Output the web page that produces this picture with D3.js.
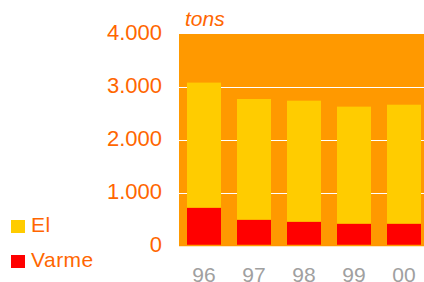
<!DOCTYPE html>
<html>
<head>
<meta charset="utf-8">
<script src="https://cdn.jsdelivr.net/npm/d3@7"></script>
<style>
  body { margin: 0; background: #fff; }
  svg { display: block; font-family: "Liberation Sans", Arial, sans-serif; }
</style>
</head>
<body>
<div id="chart"></div>
<script>
const years = ["96", "97", "98", "99", "00"];
const varme = [715, 488, 450, 413, 413];
const el = [2366, 2283, 2289, 2213, 2250];
const yTicks = [0, 1000, 2000, 3000, 4000];
const legend_items = [
  { name: "El", color: "#FFCC00" },
  { name: "Varme", color: "#FF0000" }
];

const W = 424, H = 282;
const plot_l = 179, plot_r = 429, plot_t = 34, plot_b = 245.5;

const svg = d3.select("#chart").append("svg")
  .attr("width", W)
  .attr("height", H);

const x = d3.scaleBand().domain(years).range([plot_l, plot_r])
  .paddingInner(0.32).paddingOuter(0.16);
const y = d3.scaleLinear().domain([0, 4000]).range([plot_b, plot_t]);

// plot background
svg.append("rect")
  .attr("x", plot_l).attr("y", plot_t)
  .attr("width", W - plot_l).attr("height", plot_b - plot_t)
  .attr("fill", "#FF9900");

// gridlines
svg.append("g")
  .selectAll("line")
  .data(yTicks.filter(d => d > 0 && d < 4000))
  .join("line")
  .attr("x1", plot_l).attr("x2", W)
  .attr("y1", d => Math.round(y(d)) + 0.5).attr("y2", d => Math.round(y(d)) + 0.5)
  .attr("stroke", "#fff").attr("stroke-width", 1);

const stacked = years.map((yr, i) => ({ yr, varme: varme[i], el: el[i] }));

// Varme bars (bottom)
svg.append("g")
  .selectAll("rect")
  .data(stacked)
  .join("rect")
  .attr("x", d => x(d.yr))
  .attr("width", x.bandwidth())
  .attr("y", d => y(d.varme))
  .attr("height", d => y(0) - y(d.varme))
  .attr("fill", "#FF0000");

// El bars (on top)
svg.append("g")
  .selectAll("rect")
  .data(stacked)
  .join("rect")
  .attr("x", d => x(d.yr))
  .attr("width", x.bandwidth())
  .attr("y", d => y(d.varme + d.el))
  .attr("height", d => y(d.varme) - y(d.varme + d.el))
  .attr("fill", "#FFCC00");

// baseline
svg.append("line")
  .attr("x1", plot_l).attr("x2", W)
  .attr("y1", plot_b).attr("y2", plot_b)
  .attr("stroke", "#FF9900").attr("stroke-width", 1.5);

// y labels
const fmt = d => d3.format(",")(d).replace(/,/g, ".");
svg.append("g")
  .selectAll("text")
  .data(yTicks)
  .join("text")
  .attr("x", 162)
  .attr("y", d => y(d))
  .attr("dy", "0.28em")
  .attr("text-anchor", "end")
  .attr("font-size", "22px")
  .attr("fill", "#FF6600")
  .text(fmt);

// unit
svg.append("text")
  .attr("x", 185).attr("y", 26)
  .attr("font-size", "21px")
  .attr("font-style", "italic")
  .attr("fill", "#FF6600")
  .text("tons");

// x labels
svg.append("g")
  .selectAll("text")
  .data(years)
  .join("text")
  .attr("x", d => x(d) + x.bandwidth() / 2)
  .attr("y", 282)
  .attr("text-anchor", "middle")
  .attr("font-size", "21px")
  .attr("fill", "#A0A0A0")
  .text(d => d);

// legend
const lg = svg.append("g")
  .selectAll("g")
  .data(legend_items)
  .join("g")
  .attr("transform", (d, i) => `translate(11,${220 + i * 35})`);
lg.append("rect")
  .attr("width", 14).attr("height", 13)
  .attr("fill", d => d.color);
lg.append("text")
  .attr("x", 20).attr("y", 12)
  .attr("font-size", "21px")
  .attr("letter-spacing", "0.5px")
  .attr("fill", "#FF6600")
  .text(d => d.name);
</script>
</body>
</html>
